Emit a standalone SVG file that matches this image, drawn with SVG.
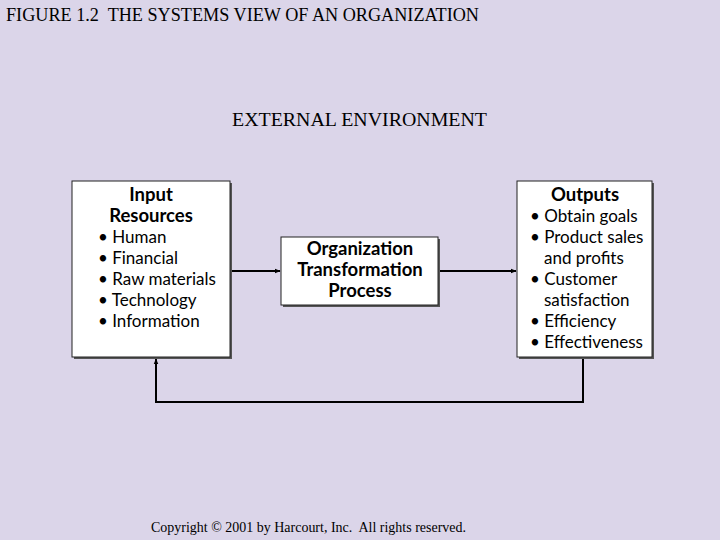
<svg xmlns="http://www.w3.org/2000/svg" width="720" height="540" viewBox="0 0 720 540">
<defs>
<style>
.hdr{font-family:"Liberation Serif",serif;font-size:18px;fill:#000}
.box{fill:#fff;stroke:#222;stroke-width:1}
.shadow{fill:#555}
.t{font-family:Lato,"Open Sans",sans-serif;font-size:17px;fill:#000}
.b{font-weight:bold;font-size:18.5px}
.conn{fill:none;stroke:#000;stroke-width:2}
</style>
<marker id="ah" viewBox="0 0 10 10" refX="9" refY="5" markerWidth="6" markerHeight="6" orient="auto" markerUnits="userSpaceOnUse">
<path d="M0,1 L10,5 L0,9 z" fill="#000"/>
</marker>
</defs>
<rect width="720" height="540" fill="#dbd5e9"/>
<text class="hdr" x="6" y="21" xml:space="preserve" textLength="473" lengthAdjust="spacingAndGlyphs">FIGURE 1.2  THE SYSTEMS VIEW OF AN ORGANIZATION</text>
<text class="hdr" x="232" y="126" style="font-size:19.5px" textLength="255" lengthAdjust="spacingAndGlyphs">EXTERNAL ENVIRONMENT</text>
<text class="hdr" x="151" y="532" style="font-size:14px" xml:space="preserve" textLength="315" lengthAdjust="spacingAndGlyphs">Copyright © 2001 by Harcourt, Inc.  All rights reserved.</text>

<g id="connectors">
<line class="conn" x1="231" y1="271" x2="280" y2="271" marker-end="url(#ah)"/>
<line class="conn" x1="439" y1="271" x2="516" y2="271" marker-end="url(#ah)"/>
<polyline class="conn" points="583,358 583,402 156,402 156,359" marker-end="url(#ah)"/>
</g>

<g id="input">
<rect class="shadow" x="74" y="183" width="158" height="176"/>
<rect class="box" x="72" y="181" width="158" height="176"/>
<text class="t b" x="151" y="201" text-anchor="middle">Input</text>
<text class="t b" x="151" y="222" text-anchor="middle">Resources</text>
<text class="t" x="98" y="243">• Human</text>
<text class="t" x="98" y="264">• Financial</text>
<text class="t" x="98" y="285">• Raw materials</text>
<text class="t" x="98" y="306">• Technology</text>
<text class="t" x="98" y="327">• Information</text>
</g>

<g id="process">
<rect class="shadow" x="283" y="239" width="157" height="68"/>
<rect class="box" x="281" y="237" width="157" height="68"/>
<text class="t b" x="360" y="255" text-anchor="middle">Organization</text>
<text class="t b" x="360" y="276" text-anchor="middle">Transformation</text>
<text class="t b" x="360" y="297" text-anchor="middle">Process</text>
</g>

<g id="outputs">
<rect class="shadow" x="519" y="183" width="135" height="176"/>
<rect class="box" x="517" y="181" width="135" height="176"/>
<text class="t b" x="585" y="201" text-anchor="middle">Outputs</text>
<text class="t" x="530" y="222">• Obtain goals</text>
<text class="t" x="530" y="243">• Product sales</text>
<text class="t" x="544" y="264">and profits</text>
<text class="t" x="530" y="285">• Customer</text>
<text class="t" x="544" y="306">satisfaction</text>
<text class="t" x="530" y="327">• Efficiency</text>
<text class="t" x="530" y="348">• Effectiveness</text>
</g>
</svg>
